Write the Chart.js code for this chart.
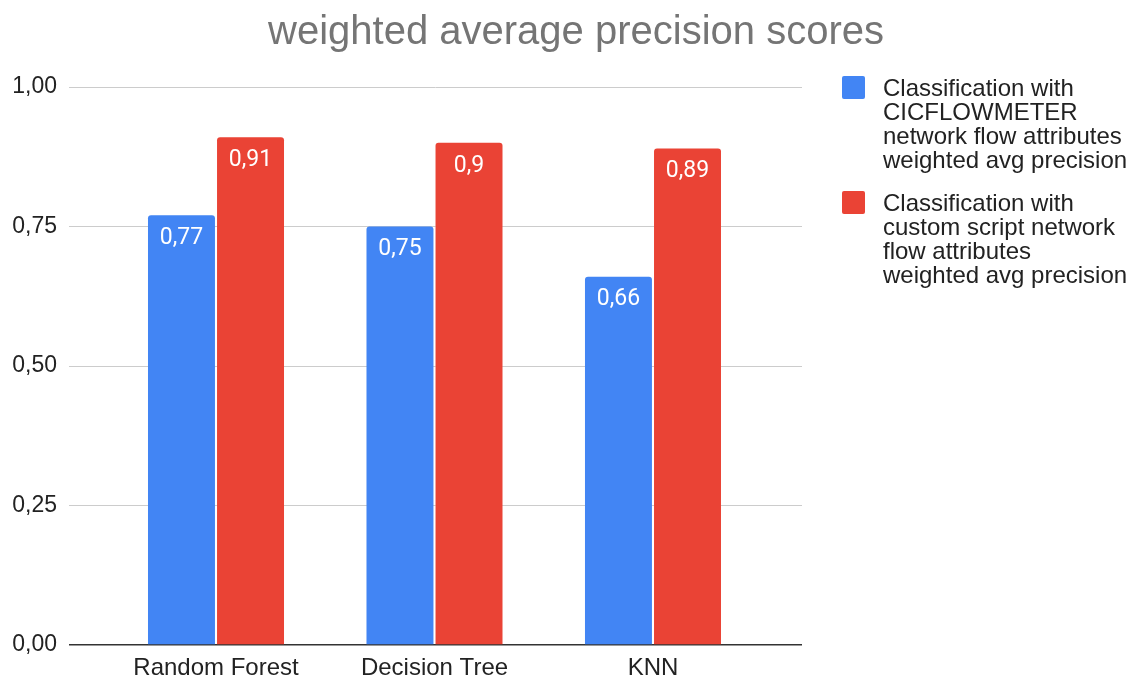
<!DOCTYPE html>
<html>
<head>
<meta charset="utf-8">
<script src="https://cdn.jsdelivr.net/npm/chart.js@4/dist/chart.umd.min.js"></script>
<style>
  html, body { margin: 0; padding: 0; background: #ffffff; }
  #wrap { position: relative; width: 1135px; height: 682px; }
</style>
</head>
<body>
<div id="wrap"><canvas id="chart"></canvas></div>
<script>
// Models compared on the x axis
const categories = ['Random Forest', 'Decision Tree', 'KNN'];

// Weighted average precision per model
const cicflowmeterPrecision = [0.77, 0.75, 0.66];
const customScriptPrecision = [0.91, 0.90, 0.89];

// Value axis ticks
const yTicks = [0, 0.25, 0.5, 0.75, 1];

// Series names, split into the lines shown in the legend
const seriesLines = [
  ['Classification with', 'CICFLOWMETER', 'network flow attributes', 'weighted avg precision'],
  ['Classification with', 'custom script network', 'flow attributes', 'weighted avg precision']
];
const seriesColors = ['#4285F4', '#EA4335'];

const chartTitle = 'weighted average precision scores';

const fmt = v => String(v).replace('.', ',');
const sansFamily = '"Liberation Sans", Arial, sans-serif';

// White value labels just inside the top of each bar
const valueLabels = {
  id: 'valueLabels',
  afterDatasetsDraw(chart) {
    const ctx = chart.ctx;
    ctx.save();
    ctx.font = '23px Roboto, "Liberation Sans", sans-serif';
    ctx.fillStyle = '#ffffff';
    ctx.textAlign = 'center';
    ctx.textBaseline = 'middle';
    chart.data.datasets.forEach((ds, di) => {
      chart.getDatasetMeta(di).data.forEach((bar, i) => {
        ctx.fillText(fmt(ds.data[i].y), bar.x, bar.y + 23);
      });
    });
    ctx.restore();
  }
};

// Legend on the right with wrapped series names
const sideLegend = {
  id: 'sideLegend',
  afterDraw(chart) {
    const ctx = chart.ctx;
    const left = chart.chartArea.right + 40;
    const textX = left + 41;
    const lineH = 24;
    ctx.save();
    ctx.font = '24px ' + sansFamily;
    ctx.textAlign = 'left';
    ctx.textBaseline = 'alphabetic';
    let baseY = 96;
    seriesLines.forEach((lines, si) => {
      ctx.fillStyle = seriesColors[si];
      ctx.beginPath();
      ctx.roundRect(left, baseY - 20, 23, 23, 2);
      ctx.fill();
      ctx.fillStyle = '#222222';
      lines.forEach((t, li) => ctx.fillText(t, textX, baseY + li * lineH));
      baseY += lines.length * lineH + 19;
    });
    ctx.restore();
  }
};

const toPoints = arr => arr.map((v, i) => ({ x: i, y: v }));

new Chart(document.getElementById('chart'), {
  type: 'bar',
  data: {
    datasets: [
      {
        label: seriesLines[0].join(' '),
        data: toPoints(cicflowmeterPrecision),
        backgroundColor: seriesColors[0],
        borderRadius: 3,
        borderSkipped: 'start'
      },
      {
        label: seriesLines[1].join(' '),
        data: toPoints(customScriptPrecision),
        backgroundColor: seriesColors[1],
        borderRadius: 3,
        borderSkipped: 'start'
      }
    ]
  },
  options: {
    responsive: true,
    maintainAspectRatio: false,
    animation: false,
    categoryPercentage: 0.632,
    barPercentage: 0.97,
    layout: { padding: { left: 0, right: -17, top: 0, bottom: 0 } },
    plugins: {
      legend: { display: false },
      tooltip: { enabled: false },
      title: {
        display: true,
        text: chartTitle,
        color: '#757575',
        font: { family: sansFamily, size: 40, weight: 'normal', lineHeight: 1.2 },
        padding: { top: 9, bottom: 30 }
      }
    },
    scales: {
      x: {
        type: 'linear',
        position: 'bottom',
        min: -0.6728,
        max: 2.682,
        offset: false,
        afterBuildTicks: s => { s.ticks = categories.map((_, i) => ({ value: i })); },
        afterFit: s => { s.height = 37; },
        grid: { display: false, drawTicks: false, offset: false },
        border: { display: false },
        ticks: {
          callback: v => categories[v],
          color: '#222222',
          font: { family: sansFamily, size: 24 },
          padding: 9,
          maxRotation: 0,
          autoSkip: false
        }
      },
      y: {
        position: 'left',
        min: 0,
        max: 1,
        afterBuildTicks: s => { s.ticks = yTicks.map(v => ({ value: v })); },
        afterFit: s => { s.width = 69; },
        grid: {
          drawTicks: false,
          color: c => (c.tick && c.tick.value === 0 ? '#333333' : '#cccccc'),
          lineWidth: c => (c.tick && c.tick.value === 0 ? 1.5 : 1)
        },
        border: { display: false },
        ticks: {
          callback: v => v.toFixed(2).replace('.', ','),
          color: '#222222',
          font: { family: sansFamily, size: 23 },
          padding: 12
        }
      },
      legendSpace: {
        type: 'linear',
        position: 'right',
        display: true,
        afterFit: s => { s.width = 350; },
        grid: { display: false, drawTicks: false },
        border: { display: false },
        ticks: { display: false }
      }
    }
  },
  plugins: [valueLabels, sideLegend]
});
</script>
</body>
</html>
